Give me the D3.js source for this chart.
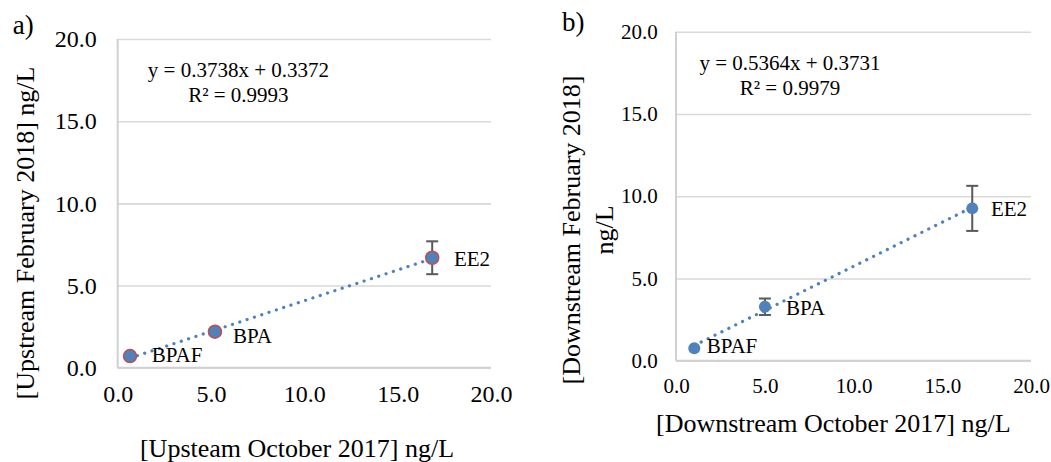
<!DOCTYPE html>
<html>
<head>
<meta charset="utf-8">
<script src="https://cdn.jsdelivr.net/npm/d3@7/dist/d3.min.js"></script>
<style>
  html, body { margin: 0; padding: 0; background: #ffffff; }
  svg { display: block; }
  text { font-family: "Liberation Serif", "Times New Roman", serif; fill: #000; }
</style>
</head>
<body>
<svg id="chart" width="1051" height="462"></svg>
<script>
// Compounds measured at both sampling sites
const categories = ["BPAF", "BPA", "EE2"];

// Upstream site: October 2017 vs February 2018 (ng/L)
const upstreamOct = [0.66, 5.21, 16.85];
const upstreamFeb = [0.71, 2.19, 6.69];
const upstreamErr = [0, 0, 1.0];

// Downstream site: October 2017 vs February 2018 (ng/L)
const downstreamOct = [1.03, 5.01, 16.69];
const downstreamFeb = [0.75, 3.28, 9.26];
const downstreamErr = [0, 0.5, 1.37];

// Linear fits (upstream, downstream)
const fitSlopes = [0.3738, 0.5364];
const fitIntercepts = [0.3372, 0.3731];
const fitR2 = [0.9993, 0.9979];

const axisTicks = [0, 5, 10, 15, 20];
const panelLetters = ["a)", "b)"];
const xTitles = ["[Upsteam October 2017] ng/L", "[Downstream October 2017] ng/L"];
const yTitles = [["[Upstream February 2018] ng/L"], ["[Downstream February 2018]", "ng/L"]];

const BLUE = "#4F81BD";
const RED = "#C0504D";

const svg = d3.select("#chart");

// Layout of the two panels
const panels = [
  {
    xs: upstreamOct, ys: upstreamFeb, err: upstreamErr,
    left: 117.7, right: 491, top: 39, bottom: 367.7,
    tickFont: 24, yPad: 21, xPad: 17,
    markerR: 6.5, markerStroke: RED,
    letter: { x: 12.7, y: 34 },
    eq: { x: 238.4, y1: 77.3, y2: 102 },
    xTitle: { x: 297, y: 457 },
    yTitle: { xs: [34.4], y: 233 },
    labelOffsets: [[21.7, 5.7], [18, 11], [21.7, 8]]
  },
  {
    xs: downstreamOct, ys: downstreamFeb, err: downstreamErr,
    left: 676, right: 1031, top: 31.7, bottom: 360.7,
    tickFont: 21, yPad: 18.3, xPad: 17.7,
    markerR: 6, markerStroke: null,
    letter: { x: 562, y: 31 },
    eq: { x: 790, y1: 70, y2: 95 },
    xTitle: { x: 833.3, y: 431.7 },
    yTitle: { xs: [579.5, 612.7], y: 230 },
    labelOffsets: [[12.4, 5], [21, 8.3], [18.7, 7.7]]
  }
];

panels.forEach((p, i) => {
  const x = d3.scaleLinear().domain([0, 20]).range([p.left, p.right]);
  const y = d3.scaleLinear().domain([0, 20]).range([p.bottom, p.top]);
  const g = svg.append("g");

  // Horizontal gridlines with y tick labels
  const yAxis = g.append("g")
    .attr("transform", `translate(${p.left},0)`)
    .call(d3.axisLeft(y).tickValues(axisTicks).tickFormat(d3.format(".1f"))
      .tickSize(-(p.right - p.left)).tickPadding(p.yPad));
  yAxis.select(".domain").remove();
  yAxis.selectAll(".tick line").attr("stroke", "#D9D9D9").attr("stroke-width", 1.6);
  yAxis.selectAll("text")
    .attr("font-family", "Liberation Serif, Times New Roman, serif")
    .attr("font-size", p.tickFont).attr("fill", "#000");

  // X tick labels
  const xAxis = g.append("g")
    .attr("transform", `translate(0,${p.bottom})`)
    .call(d3.axisBottom(x).tickValues(axisTicks).tickFormat(d3.format(".1f"))
      .tickSize(0).tickPadding(p.xPad));
  xAxis.select(".domain").remove();
  xAxis.selectAll("text")
    .attr("font-family", "Liberation Serif, Times New Roman, serif")
    .attr("font-size", p.tickFont).attr("fill", "#000");

  // Axis lines
  g.append("line")
    .attr("x1", x(0)).attr("x2", x(0)).attr("y1", y(20)).attr("y2", y(0))
    .attr("stroke", "#D0D0D0").attr("stroke-width", 2);
  g.append("line")
    .attr("x1", x(0)).attr("x2", x(20)).attr("y1", y(0)).attr("y2", y(0))
    .attr("stroke", "#D0D0D0").attr("stroke-width", 2);

  // Dotted linear trendline across the data range
  const xMin = d3.min(p.xs), xMax = d3.max(p.xs);
  const fit = v => fitSlopes[i] * v + fitIntercepts[i];
  g.append("line")
    .attr("x1", x(xMin)).attr("y1", y(fit(xMin)))
    .attr("x2", x(xMax)).attr("y2", y(fit(xMax)))
    .attr("stroke", BLUE).attr("stroke-width", 3.2)
    .attr("stroke-linecap", "round").attr("stroke-dasharray", "0.1 7.6");

  const pts = categories.map((c, k) => ({ c, x: p.xs[k], y: p.ys[k], e: p.err[k], off: p.labelOffsets[k] }));

  // Error bars
  const eb = g.selectAll(".eb").data(pts.filter(d => d.e > 0)).enter().append("g");
  eb.append("line")
    .attr("x1", d => x(d.x)).attr("x2", d => x(d.x))
    .attr("y1", d => y(d.y + d.e)).attr("y2", d => y(d.y - d.e));
  eb.append("line")
    .attr("x1", d => x(d.x) - 6).attr("x2", d => x(d.x) + 6)
    .attr("y1", d => y(d.y + d.e)).attr("y2", d => y(d.y + d.e));
  eb.append("line")
    .attr("x1", d => x(d.x) - 6).attr("x2", d => x(d.x) + 6)
    .attr("y1", d => y(d.y - d.e)).attr("y2", d => y(d.y - d.e));
  eb.selectAll("line").attr("stroke", "#595959").attr("stroke-width", 2);

  // Markers
  g.selectAll(".pt").data(pts).enter().append("circle")
    .attr("cx", d => x(d.x)).attr("cy", d => y(d.y)).attr("r", p.markerR)
    .attr("fill", BLUE)
    .attr("stroke", p.markerStroke || "none").attr("stroke-width", 1.5);

  // Point labels
  g.selectAll(".lbl").data(pts).enter().append("text")
    .attr("x", d => x(d.x) + d.off[0]).attr("y", d => y(d.y) + d.off[1])
    .attr("font-size", 21).text(d => d.c);

  // Regression equation and R²
  g.append("text").attr("x", p.eq.x).attr("y", p.eq.y1).attr("text-anchor", "middle")
    .attr("font-size", 21)
    .text(`y = ${fitSlopes[i].toFixed(4)}x + ${fitIntercepts[i].toFixed(4)}`);
  g.append("text").attr("x", p.eq.x).attr("y", p.eq.y2).attr("text-anchor", "middle")
    .attr("font-size", 21)
    .text(`R² = ${fitR2[i].toFixed(4)}`);

  // Panel letter
  g.append("text").attr("x", p.letter.x).attr("y", p.letter.y)
    .attr("font-size", 27).text(panelLetters[i]);

  // Axis titles
  g.append("text").attr("x", p.xTitle.x).attr("y", p.xTitle.y).attr("text-anchor", "middle")
    .attr("font-size", 26).text(xTitles[i]);
  yTitles[i].forEach((t, j) => {
    g.append("text")
      .attr("transform", `translate(${p.yTitle.xs[j]},${p.yTitle.y}) rotate(-90)`)
      .attr("text-anchor", "middle").attr("font-size", 26).text(t);
  });
});
</script>
</body>
</html>
